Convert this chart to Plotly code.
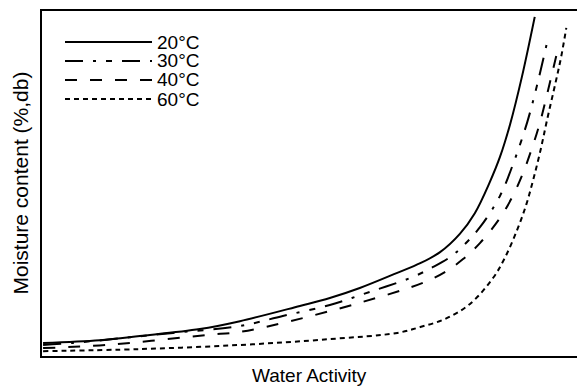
import plotly.graph_objects as go

# Data (water activity vs. moisture content, arbitrary %db scale)
series_names = ["20°C", "30°C", "40°C", "60°C"]

aw_20 = [0.002, 0.108, 0.183, 0.295, 0.370, 0.482, 0.538, 0.594, 0.664, 0.707, 0.744, 0.781, 0.809, 0.837, 0.856, 0.875, 0.897, 0.921]
mc_20 = [3.8, 4.6, 5.8, 7.8, 10.1, 14.5, 16.8, 19.7, 24.1, 26.9, 30.1, 35.4, 41.4, 50.4, 57.7, 67.2, 80.9, 98.3]

aw_30 = [0.002, 0.058, 0.245, 0.370, 0.450, 0.538, 0.613, 0.693, 0.731, 0.763, 0.787, 0.819, 0.856, 0.880, 0.907, 0.925, 0.946]
mc_30 = [3.2, 3.8, 6.7, 8.7, 11.6, 14.8, 18.6, 22.9, 25.8, 28.7, 31.9, 37.4, 46.4, 55.4, 67.8, 78.3, 92.2]

aw_40 = [0.002, 0.121, 0.308, 0.370, 0.464, 0.600, 0.712, 0.753, 0.787, 0.819, 0.856, 0.880, 0.899, 0.916, 0.931, 0.946, 0.966]
mc_40 = [2.3, 3.2, 6.1, 7.0, 10.1, 15.7, 21.2, 24.3, 28.1, 32.8, 40.0, 46.4, 53.0, 60.3, 67.8, 77.1, 90.1]

aw_60 = [0.002, 0.183, 0.370, 0.538, 0.664, 0.707, 0.753, 0.800, 0.843, 0.865, 0.888, 0.905, 0.918, 0.931, 0.944, 0.961, 0.970, 0.980]
mc_60 = [1.4, 2.0, 3.2, 4.9, 6.7, 8.4, 10.7, 15.1, 22.6, 28.4, 36.5, 43.8, 51.0, 59.1, 68.4, 80.0, 86.4, 95.1]

xs = [aw_20, aw_30, aw_40, aw_60]
ys = [mc_20, mc_30, mc_40, mc_60]
dashes = ["solid", "18px,10px,3px,10px,6px,10px", "12px,13px", "5px,4px"]

W, H = 577, 386
ML, MR, MT, MB = 42, 0, 11, 30
PW, PH = W - ML - MR, H - MT - MB
FONT = "Liberation Sans, Arial, Helvetica, sans-serif"

fig = go.Figure()
for name, x, y, d in zip(series_names, xs, ys, dashes):
    fig.add_trace(go.Scatter(
        x=x, y=y, mode="lines", name=name,
        line=dict(color="black", width=2, dash=d, shape="spline", smoothing=1.0),
        showlegend=False,
    ))

# Manual legend (long key lines like the reference)
def px_to_paper_x(px):
    return (px - ML) / PW

def px_to_paper_y(py):
    return (H - MB - py) / PH

shapes = []
annotations = []
leg_x0, leg_x1, leg_text_x = 65, 152, 155
row0, row_step = 42, 19
for i, (name, d) in enumerate(zip(series_names, dashes)):
    yy = px_to_paper_y(row0 + i * row_step)
    shapes.append(dict(type="line", xref="paper", yref="paper",
                       x0=px_to_paper_x(leg_x0), x1=px_to_paper_x(leg_x1), y0=yy, y1=yy,
                       line=dict(color="black", width=2, dash=d)))
    annotations.append(dict(text=name, xref="paper", yref="paper",
                            x=px_to_paper_x(leg_text_x), y=yy, xanchor="left", yanchor="middle",
                            showarrow=False, font=dict(family=FONT, size=19, color="black")))

annotations.append(dict(text="Water Activity", xref="paper", yref="paper",
                        x=0.5, y=px_to_paper_y(375), xanchor="center", yanchor="middle",
                        showarrow=False, font=dict(family=FONT, size=19, color="black")))
annotations.append(dict(text="Moisture content (%,db)", xref="paper", yref="paper",
                        x=px_to_paper_x(20), y=0.5, xanchor="center", yanchor="middle",
                        textangle=-90, showarrow=False,
                        font=dict(family=FONT, size=21, color="black")))

fig.update_layout(
    width=W, height=H,
    margin=dict(l=ML, r=MR, t=MT, b=MB),
    paper_bgcolor="white", plot_bgcolor="white",
    shapes=shapes, annotations=annotations,
    xaxis=dict(range=[0, 1], showgrid=False, zeroline=False, showticklabels=False, ticks="",
               showline=True, linecolor="black", linewidth=2, mirror=True),
    yaxis=dict(range=[0, 100], showgrid=False, zeroline=False, showticklabels=False, ticks="",
               showline=True, linecolor="black", linewidth=2, mirror=False),
)

fig.write_html("out.html")
